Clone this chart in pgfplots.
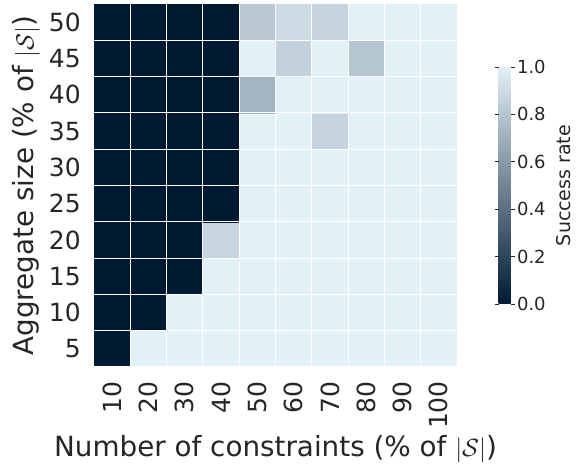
\documentclass[border=0pt]{standalone}
\usepackage{pgfplots}
\usepackage{pgfplotstable}
\pgfplotsset{compat=1.18}
\usepackage{fontspec}
\setmainfont{DejaVu Sans}
\definecolor{txt}{HTML}{262626}

% success rate per (constraints, aggregate size) cell;
% x: 0..9 -> 10..100 % constraints, y: 0..9 -> 5..50 % aggregate size
\pgfplotstableread[row sep=\\]{
x y v\\
0 0 0\\ 1 0 1\\ 2 0 1\\ 3 0 1\\ 4 0 1\\ 5 0 1\\ 6 0 1\\ 7 0 1\\ 8 0 1\\ 9 0 1\\
0 1 0\\ 1 1 0\\ 2 1 1\\ 3 1 1\\ 4 1 1\\ 5 1 1\\ 6 1 1\\ 7 1 1\\ 8 1 1\\ 9 1 1\\
0 2 0\\ 1 2 0\\ 2 2 0\\ 3 2 1\\ 4 2 1\\ 5 2 1\\ 6 2 1\\ 7 2 1\\ 8 2 1\\ 9 2 1\\
0 3 0\\ 1 3 0\\ 2 3 0\\ 3 3 0.87\\ 4 3 1\\ 5 3 1\\ 6 3 1\\ 7 3 1\\ 8 3 1\\ 9 3 1\\
0 4 0\\ 1 4 0\\ 2 4 0\\ 3 4 0\\ 4 4 1\\ 5 4 1\\ 6 4 1\\ 7 4 1\\ 8 4 1\\ 9 4 1\\
0 5 0\\ 1 5 0\\ 2 5 0\\ 3 5 0\\ 4 5 1\\ 5 5 1\\ 6 5 1\\ 7 5 1\\ 8 5 1\\ 9 5 1\\
0 6 0\\ 1 6 0\\ 2 6 0\\ 3 6 0\\ 4 6 1\\ 5 6 1\\ 6 6 0.86\\ 7 6 1\\ 8 6 1\\ 9 6 1\\
0 7 0\\ 1 7 0\\ 2 7 0\\ 3 7 0\\ 4 7 0.72\\ 5 7 1\\ 6 7 1\\ 7 7 1\\ 8 7 1\\ 9 7 1\\
0 8 0\\ 1 8 0\\ 2 8 0\\ 3 8 0\\ 4 8 1\\ 5 8 0.85\\ 6 8 1\\ 7 8 0.8\\ 8 8 1\\ 9 8 1\\
0 9 0\\ 1 9 0\\ 2 9 0\\ 3 9 0\\ 4 9 0.81\\ 5 9 0.89\\ 6 9 0.86\\ 7 9 1\\ 8 9 1\\ 9 9 1\\
}\successtable

\begin{document}
\begin{tikzpicture}
\useasboundingbox (0,0) rectangle (579pt,468pt);
\begin{axis}[
  at={(94pt,101pt)}, anchor=south west,
  scale only axis, width=363pt, height=363pt,
  xmin=-0.5, xmax=9.5, ymin=-0.5, ymax=9.5,
  enlargelimits=false,
  colormap={navylight}{rgb255=(1,25,49) rgb255=(226,240,248)},
  point meta min=0, point meta max=1,
  axis line style={draw=none},
  major tick length=0pt, minor tick length=0pt,
  xtick={0,...,9}, ytick={0,...,9},
  xticklabels={10,20,30,40,50,60,70,80,90,100},
  yticklabels={5,10,15,20,25,30,35,40,45,50},
  minor xtick={-0.5,0.5,...,9.5}, minor ytick={-0.5,0.5,...,9.5},
  xminorgrids, yminorgrids,
  minor grid style={white, line width=1pt},
  axis on top,
  ticklabel style={font=\fontsize{25}{25}\selectfont, text=txt},
  yticklabel style={anchor=east, inner sep=0pt, xshift=-13pt},
  xticklabel style={yshift=-14pt, rotate=90, anchor=east, inner sep=0pt},
  xlabel={Number of constraints (\% of $|\mathcal{S}|$)},
  ylabel={Aggregate size (\% of $|\mathcal{S}|$)},
  label style={font=\fontsize{27.8}{27.8}\selectfont, text=txt},
  xlabel style={at={(axis description cs:0.5,0)}, anchor=base, yshift=-90pt},
  ylabel style={at={(axis description cs:-0.187,0.5)}, anchor=center},
  colorbar,
  colorbar style={
    at={(parent axis.east)}, anchor=west, xshift=33pt,
    scale only axis, width=12pt, height=237pt,
    axis line style={draw=none},
    ytick={0,0.2,0.4,0.6,0.8,1},
    major tick length=4pt, tick align=outside,
    tick style={color=txt, line width=0.8pt},
    yticklabel pos=right,
    yticklabel style={font=\fontsize{18}{18}\selectfont, text=txt, xshift=-1pt,
      /pgf/number format/.cd, fixed, fixed zerofill, precision=1, assume math mode=true},
    ylabel={Success rate},
    ylabel style={font=\fontsize{19}{19}\selectfont, text=txt,
      at={(axis description cs:5.42,0.5)}, anchor=center},
  },
]
\addplot[matrix plot*, mesh/cols=10, point meta=explicit]
  table[x=x, y=y, meta=v] {\successtable};
\end{axis}
\end{tikzpicture}
\end{document}
